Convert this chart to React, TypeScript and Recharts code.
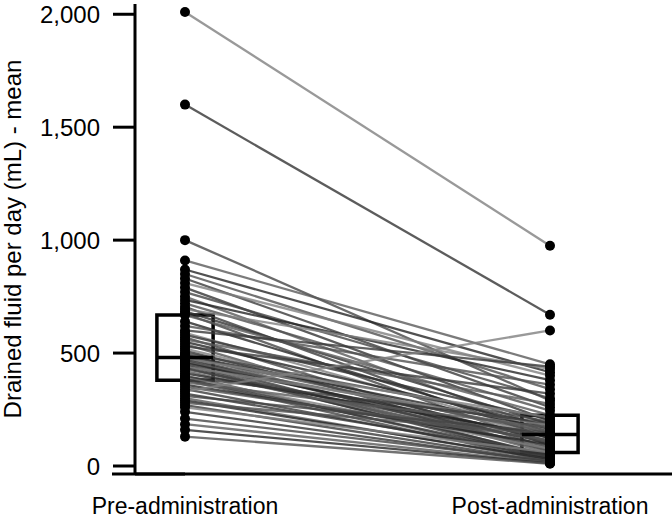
import React from "react";
import {
  ComposedChart,
  Line,
  Scatter,
  XAxis,
  YAxis,
  ReferenceArea,
  ReferenceLine,
} from "recharts";

const groups = ["Pre-administration", "Post-administration"];

// drained fluid per day (mL), one entry per patient, same order in both arrays
const preValues = [
  2010, 1600, 1000, 910, 870, 850, 830, 810, 790, 770, 750, 735, 720, 705, 695,
  685, 675, 668, 640, 620, 600, 590, 580, 570, 560, 550, 540, 530, 520, 510,
  500, 495, 490, 485, 480, 475, 470, 465, 460, 455, 450, 445, 440, 435, 430,
  420, 410, 400, 395, 390, 385, 380, 370, 360, 350, 340, 330, 320, 310, 300,
  290, 280, 270, 260, 240, 210, 185, 160, 130,
];
const postValues = [
  975, 670, 290, 450, 415, 340, 260, 400, 200, 300, 160, 380, 245, 120, 430,
  185, 90, 225, 150, 360, 440, 142, 205, 80, 275, 175, 64, 320, 130, 110,
  195, 56, 165, 145, 72, 215, 100, 40, 155, 125, 68, 34, 180, 48, 105,
  85, 135, 28, 190, 76, 44, 20, 170, 95, 115, 37, 600, 52, 148, 25,
  31, 140, 18, 60, 16, 22, 14, 12, 10,
];

const yTicks = [0, 500, 1000, 1500, 2000];

const lineGrays = ["#808080", "#333333", "#454545", "#5a5a5a", "#262626", "#505050", "#3a3a3a"];
const BOX_HALF = 0.077;
const AXIS_BASE = -35.2; // value where the x axis line sits (below 0 because of padding)

function quantile(values: number[], q: number) {
  const s = [...values].sort((a, b) => a - b);
  const pos = (s.length - 1) * q;
  const lo = Math.floor(pos);
  const hi = Math.ceil(pos);
  return s[lo] + (s[hi] - s[lo]) * (pos - lo);
}

const boxes = [preValues, postValues].map((vals, i) => ({
  x: i,
  q1: quantile(vals, 0.25),
  median: quantile(vals, 0.5),
  q3: quantile(vals, 0.75),
}));

const points = [
  ...preValues.map((y) => ({ x: 0, y })),
  ...postValues.map((y) => ({ x: 1, y })),
];

const Dot = (props: any) => <circle cx={props.cx} cy={props.cy} r={5} fill="#000" />;

const YLabel = (props: any) => {
  const { viewBox } = props;
  const cx = viewBox.x + 12;
  const cy = viewBox.y + viewBox.height / 2;
  return (
    <text
      x={cx}
      y={cy}
      transform={`rotate(-90, ${cx}, ${cy})`}
      textAnchor="middle"
      dominantBaseline="central"
      fontSize={24}
      fill="#000"
    >
      Drained fluid per day (mL) - mean
    </text>
  );
};

export default function App() {
  return (
    <div
      style={{
        position: "absolute",
        left: 0,
        top: 0,
        width: 672,
        height: 519,
        background: "#fff",
        fontFamily: "'Liberation Sans', Arial, sans-serif",
      }}
    >
      <ComposedChart width={672} height={519} margin={{ top: 4, right: 0, bottom: 0, left: 0 }}>
        <XAxis
          dataKey="x"
          type="number"
          domain={[0, 1]}
          ticks={[0, 1]}
          interval={0}
          tickFormatter={(v: number) => groups[v]}
          padding={{ left: 50, right: 122 }}
          height={45}
          axisLine={{ stroke: "#000", strokeWidth: 3 }}
          tickLine={false}
          tickSize={0}
          tickMargin={24}
          tick={{ fill: "#000", fontSize: 23 }}
        />
        <YAxis
          dataKey="y"
          type="number"
          domain={[0, 2000]}
          ticks={yTicks}
          interval={0}
          padding={{ top: 8, bottom: 8 }}
          width={135}
          axisLine={{ stroke: "#000", strokeWidth: 3 }}
          tickLine={{ stroke: "#000", strokeWidth: 3 }}
          tickSize={22}
          tickMargin={13}
          tick={{ fill: "#000", fontSize: 24 }}
          tickFormatter={(v: number) => v.toLocaleString("en-US")}
          label={{ content: YLabel }}
        />

        {/* x axis line continues left under the y ticks */}
        <ReferenceLine
          segment={[
            { x: -0.2, y: AXIS_BASE },
            { x: 0, y: AXIS_BASE },
          ]}
          stroke="#000"
          strokeWidth={3}
          ifOverflow="visible"
        />

        {preValues.map((pre, i) => (
          <Line
            key={`pair-${i}`}
            data={[
              { x: 0, y: pre },
              { x: 1, y: postValues[i] },
            ]}
            dataKey="y"
            type="linear"
            stroke={lineGrays[i % lineGrays.length]}
            strokeOpacity={0.8}
            strokeWidth={2.3}
            dot={false}
            activeDot={false}
            isAnimationActive={false}
          />
        ))}

        {boxes.map((b) => (
          <ReferenceArea
            key={`box-${b.x}`}
            x1={b.x - BOX_HALF}
            x2={b.x + BOX_HALF}
            y1={b.q1}
            y2={b.q3}
            fill="none"
            fillOpacity={0}
            stroke="#000"
            strokeWidth={3.5}
            ifOverflow="visible"
          />
        ))}
        {boxes.map((b) => (
          <ReferenceLine
            key={`median-${b.x}`}
            segment={[
              { x: b.x - BOX_HALF, y: b.median },
              { x: b.x + BOX_HALF, y: b.median },
            ]}
            stroke="#000"
            strokeWidth={3.5}
            ifOverflow="visible"
          />
        ))}

        <Scatter data={points} dataKey="y" shape={Dot} isAnimationActive={false} />
      </ComposedChart>
    </div>
  );
}
